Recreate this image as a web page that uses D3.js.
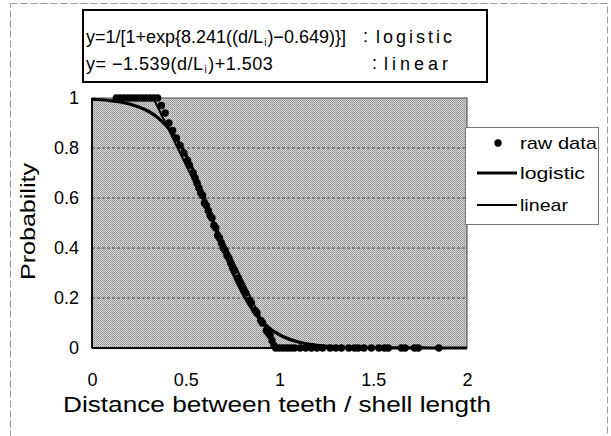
<!DOCTYPE html>
<html><head><meta charset="utf-8">
<script src="https://cdn.jsdelivr.net/npm/d3@7"></script>
<style>
html,body{margin:0;padding:0;background:#fff;}
text{font-family:"Liberation Sans",Arial,sans-serif;fill:#000;}
</style></head>
<body><svg id="c" width="611" height="436"></svg>
<script>
// ---- data ----
const xTicks = [0, 0.5, 1, 1.5, 2];
const xTickLabels = ["0", "0.5", "1", "1.5", "2"];
const yTicks = [0, 0.2, 0.4, 0.6, 0.8, 1];
const yTickLabels = ["0", "0.2", "0.4", "0.6", "0.8", "1"];

const rawX = [0.13,0.15,0.17,0.19,0.21,0.23,0.25,0.27,0.29,0.31,0.33,0.35,
  0.37,0.39,0.41,0.43,0.45,0.47,0.49,0.51,0.52,0.54,0.55,0.56,0.57,0.58,0.59,0.60,0.61,0.62,0.63,0.64,0.65,0.66,0.67,0.68,0.69,0.70,0.71,0.72,0.73,0.74,0.75,0.76,0.78,0.79,0.80,0.81,0.82,0.84,0.85,0.87,0.88,0.90,0.91,0.93,0.94,0.95,0.96,0.97,
  0.98,1.00,1.02,1.04,1.06,1.08,1.11,1.14,1.17,1.20,1.23,1.27,1.30,1.33,1.37,1.40,1.42,1.45,1.49,1.53,1.56,1.58,1.65,1.67,1.72,1.74,1.85];
const rawY = [1,1,1,1,1,1,1,1,1,1,1,1,
  0.97,0.94,0.90,0.87,0.84,0.81,0.78,0.75,0.73,0.70,0.68,0.66,0.64,0.62,0.61,0.58,0.57,0.55,0.53,0.52,0.49,0.48,0.45,0.44,0.42,0.40,0.39,0.37,0.36,0.34,0.32,0.31,0.28,0.26,0.25,0.23,0.22,0.19,0.18,0.15,0.14,0.11,0.10,0.07,0.06,0.05,0.03,0.01,
  0,0,0,0,0,0,0,0,0,0,0,0,0,0,0,0,0,0,0,0,0,0,0,0,0,0,0];

const logisticX = [0,0.05,0.1,0.15,0.2,0.25,0.3,0.35,0.4,0.45,0.5,0.55,0.6,0.65,0.7,0.75,0.8,0.85,0.9,0.95,1.0,1.1,1.2,1.3,1.4,1.5,1.6,1.8,2.0];
const logisticY = [0.995,0.993,0.989,0.984,0.976,0.964,0.947,0.922,0.886,0.838,0.774,0.693,0.600,0.498,0.397,0.303,0.224,0.160,0.112,0.077,0.053,0.024,0.011,0.005,0.002,0.001,0.0004,0.0001,0];

const linearX = [0.327, 0.977];
const linearY = [1, 0];

const eqLine1 = ["y=1/[1+exp{8.241((d/L", "i", ")\u22120.649)}]"];
const eqLine2 = ["y= \u22121.539(d/L", "i", ")+1.503"];
const eqNames = ["logistic", "linear"];
const legendLabels = ["raw data", "logistic", "linear"];

// ---- drawing ----
const svg = d3.select("#c");
const FONT = "Liberation Sans, Arial, sans-serif";
const x = d3.scaleLinear().domain([0, 2]).range([92, 467]);
const y = d3.scaleLinear().domain([0, 1]).range([348, 98]);

// outer frame
svg.append("rect").attr("x", 10.5).attr("y", 3.5).attr("width", 597).attr("height", 445)
  .attr("fill", "none").attr("stroke", "#999").attr("stroke-dasharray", "7,3");

// halftone pattern
const defs = svg.append("defs");
const pat = defs.append("pattern").attr("id", "ht").attr("width", 2).attr("height", 2)
  .attr("patternUnits", "userSpaceOnUse");
pat.append("rect").attr("width", 2).attr("height", 2).attr("fill", "#d6d6d6");
pat.append("rect").attr("width", 1).attr("height", 1).attr("fill", "#8e8e8e");
pat.append("rect").attr("x", 1).attr("y", 1).attr("width", 1).attr("height", 1).attr("fill", "#a4a4a4");

// plot area
svg.append("rect").attr("x", x(0)).attr("y", y(1)).attr("width", x(2) - x(0)).attr("height", y(0) - y(1))
  .attr("fill", "url(#ht)").attr("stroke", "#444").attr("stroke-width", 1);

// gridlines
svg.append("g").selectAll("line").data(yTicks.filter(d => d > 0 && d < 1)).join("line")
  .attr("x1", x(0)).attr("x2", x(2)).attr("y1", d => y(d)).attr("y2", d => y(d))
  .attr("stroke", "#4a4a4a").attr("stroke-width", 1).attr("stroke-dasharray", "3,2");

// axis lines (left & bottom, heavier)
svg.append("line").attr("x1", x(0)).attr("x2", x(0)).attr("y1", y(1)).attr("y2", y(0))
  .attr("stroke", "#000").attr("stroke-width", 2);
svg.append("line").attr("x1", x(0)).attr("x2", x(2)).attr("y1", y(0)).attr("y2", y(0))
  .attr("stroke", "#000").attr("stroke-width", 2);

// axes
const xAxis = svg.append("g").attr("transform", `translate(0,${y(0)})`)
  .call(d3.axisBottom(x).tickValues(xTicks).tickSize(0).tickPadding(25)
    .tickFormat((d, i) => xTickLabels[i]));
xAxis.select(".domain").remove();
xAxis.selectAll("text").attr("font-size", 18).attr("font-family", FONT).attr("fill", "#000");

const yAxis = svg.append("g").attr("transform", `translate(${x(0)},0)`)
  .call(d3.axisLeft(y).tickValues(yTicks).tickSize(0).tickPadding(13)
    .tickFormat((d, i) => yTickLabels[i]));
yAxis.select(".domain").remove();
yAxis.selectAll("text").attr("font-size", 18).attr("font-family", FONT).attr("fill", "#000");

// axis titles
svg.append("text").attr("x", 63).attr("y", 412).attr("font-size", 22)
  .attr("textLength", 428).attr("lengthAdjust", "spacingAndGlyphs")
  .text("Distance between teeth / shell length");
svg.append("text").attr("transform", "translate(35,280) rotate(-90)").attr("font-size", 21)
  .attr("textLength", 117).attr("lengthAdjust", "spacingAndGlyphs").text("Probability");

// lines
const line = d3.line().x(d => x(d[0])).y(d => y(d[1]));
svg.append("path").datum(linearX.map((v, i) => [v, linearY[i]])).attr("d", line)
  .attr("fill", "none").attr("stroke", "#000").attr("stroke-width", 2);
svg.append("path").datum(logisticX.map((v, i) => [v, logisticY[i]])).attr("d", line.curve(d3.curveMonotoneX))
  .attr("fill", "none").attr("stroke", "#000").attr("stroke-width", 3.2);

// raw points
svg.append("g").selectAll("circle").data(rawX.map((v, i) => [v, rawY[i]])).join("circle")
  .attr("cx", d => x(d[0])).attr("cy", d => y(d[1])).attr("r", 3.7).attr("fill", "#000");

// equation box
svg.append("rect").attr("x", 83).attr("y", 10).attr("width", 404).attr("height", 72)
  .attr("fill", "#fff").attr("stroke", "#000").attr("stroke-width", 2);
function eq(parts, yy, fs, ls) {
  const t = svg.append("text").attr("x", 86).attr("y", yy).attr("font-size", fs)
    .attr("letter-spacing", ls);
  t.append("tspan").text(parts[0]);
  t.append("tspan").attr("font-size", 10).attr("dy", 3).attr("dx", 1).text(parts[1]);
  t.append("tspan").attr("dy", -3).attr("dx", 1).text(parts[2]);
}
eq(eqLine1, 43, 18, 0);
eq(eqLine2, 70, 18, 0.5);
const colX = [363, 372], nameX = [376, 384], nameW = [76, 64], eqY = [43, 70];
eqNames.forEach((n, i) => {
  svg.append("text").attr("x", colX[i]).attr("y", eqY[i] - 1).attr("font-size", 18).text(":");
  svg.append("text").attr("x", nameX[i]).attr("y", eqY[i]).attr("font-size", 18)
    .attr("textLength", nameW[i]).attr("lengthAdjust", "spacing").text(n);
});

// legend
const lg = svg.append("g");
lg.append("rect").attr("x", 465.5).attr("y", 127.5).attr("width", 133).attr("height", 97)
  .attr("fill", "#fff").attr("stroke", "#777").attr("stroke-width", 1);
lg.append("circle").attr("cx", 498).attr("cy", 143).attr("r", 3.7).attr("fill", "#000");
lg.append("line").attr("x1", 477).attr("x2", 517).attr("y1", 173).attr("y2", 173)
  .attr("stroke", "#000").attr("stroke-width", 3.2);
lg.append("line").attr("x1", 477).attr("x2", 517).attr("y1", 205).attr("y2", 205)
  .attr("stroke", "#000").attr("stroke-width", 2);
const lgW = [77, 65, 48];
const lgY = [149, 179, 211];
lg.selectAll("text.l").data(legendLabels).join("text").attr("class", "l")
  .attr("x", 520).attr("y", (d, i) => lgY[i]).attr("font-size", 17)
  .attr("textLength", (d, i) => lgW[i]).attr("lengthAdjust", "spacingAndGlyphs").text(d => d);
</script>
</body></html>
